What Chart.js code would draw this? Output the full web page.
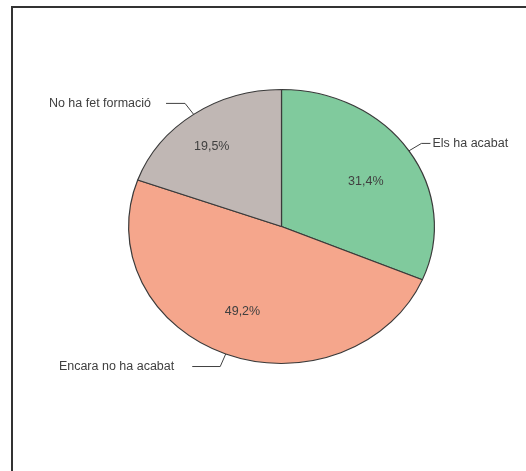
<!DOCTYPE html>
<html>
<head>
<meta charset="utf-8">
<script src="https://cdn.jsdelivr.net/npm/chart.js@4"></script>
<style>
  body { margin: 0; background: #fff; }
  canvas { display: block; }
</style>
</head>
<body>
<canvas id="formacioChart" width="526" height="471"></canvas>
<script>
const categories = ['Els ha acabat', 'Encara no ha acabat', 'No ha fet formació'];
const percentages = [31.4, 49.2, 19.5];
const sliceColors = ['#80ca9d', '#f5a68c', '#c0b7b4'];

// pie is squashed vertically into an ellipse
const yScale = 137.5 / 153.5;
// per-slice tweaks for the inner value labels and outer leader lines
const valueRadius = [0.64, 0.67, 0.74];
const valueShift = [3, 1, -3]; // degrees
const leaderLength = [9, 28, 19];
const textGap = [2, 18, 15];

const textColor = '#404040';
const font = '12.5px "Liberation Sans", Arial, sans-serif';

function ellipsePoint(arc, angle, r) {
    return {
        x: arc.x + r * Math.cos(angle),
        y: arc.y + r * Math.sin(angle) * yScale
    };
}

const framePlugin = {
    id: 'frame',
    beforeDraw(chart) {
        const ctx = chart.ctx;
        ctx.save();
        ctx.strokeStyle = '#333';
        ctx.lineWidth = 2;
        ctx.strokeRect(12, 7, 560, 520);
        ctx.restore();
    }
};

const ellipsePlugin = {
    id: 'ellipse',
    beforeDatasetsDraw(chart) {
        const arc = chart.getDatasetMeta(0).data[0];
        const ctx = chart.ctx;
        ctx.save();
        ctx.translate(arc.x, arc.y);
        ctx.scale(1, yScale);
        ctx.translate(-arc.x, -arc.y);
    },
    afterDatasetsDraw(chart) {
        chart.ctx.restore();
    }
};

const labelPlugin = {
    id: 'pieLabels',
    afterDraw(chart) {
        const ctx = chart.ctx;
        const arcs = chart.getDatasetMeta(0).data;
        ctx.save();
        ctx.font = font;
        ctx.fillStyle = textColor;
        ctx.strokeStyle = textColor;
        ctx.lineWidth = 1;
        ctx.textBaseline = 'middle';
        arcs.forEach((arc, i) => {
            const mid = (arc.startAngle + arc.endAngle) / 2;
            const R = arc.outerRadius;

            // value inside the slice
            const p = ellipsePoint(arc, mid + valueShift[i] * Math.PI / 180, R * valueRadius[i]);
            ctx.textAlign = 'center';
            ctx.fillText(percentages[i].toFixed(1).replace('.', ',') + '%', p.x, p.y);

            // leader line and category name outside
            const edge = ellipsePoint(arc, mid, R);
            const elbow = ellipsePoint(arc, mid, R + 15);
            const dir = Math.cos(mid) >= 0 ? 1 : -1;
            const end = elbow.x + dir * leaderLength[i];
            ctx.beginPath();
            ctx.moveTo(edge.x, edge.y);
            ctx.lineTo(elbow.x, elbow.y);
            ctx.lineTo(end, elbow.y);
            ctx.stroke();
            ctx.textAlign = dir > 0 ? 'left' : 'right';
            ctx.fillText(categories[i], end + dir * textGap[i], elbow.y);
        });
        ctx.restore();
    }
};

const ctx = document.getElementById('formacioChart').getContext('2d');
const formacioChart = new Chart(ctx, {
    type: 'pie',
    data: {
        labels: categories,
        datasets: [{
            data: percentages,
            backgroundColor: sliceColors,
            borderColor: '#3a3a3a',
            borderWidth: 1.2
        }]
    },
    options: {
        responsive: false,
        animation: false,
        layout: {
            padding: { left: 128, right: 91, top: 73, bottom: 91 }
        },
        plugins: {
            legend: { display: false },
            tooltip: { enabled: false }
        }
    },
    plugins: [framePlugin, ellipsePlugin, labelPlugin]
});
</script>
</body>
</html>
